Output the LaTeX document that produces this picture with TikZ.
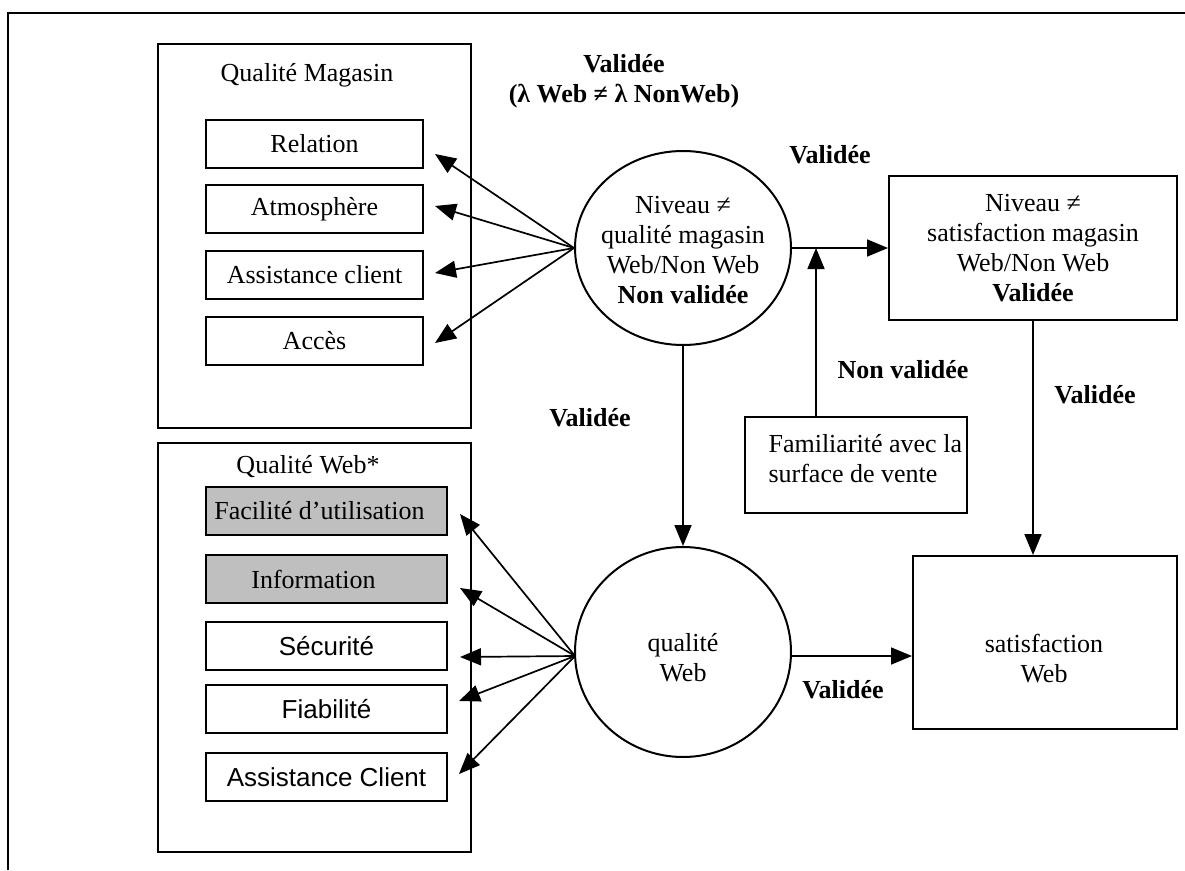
\documentclass[tikz,border=0pt]{standalone}
\usepackage{fontspec}
\setmainfont{Liberation Serif}
\newfontfamily\arialf{Liberation Sans}
\usetikzlibrary{arrows.meta,shapes.geometric,calc}
\begin{document}
\begin{tikzpicture}[x=1pt,y=-1pt,
  txt/.style={font=\fontsize{26}{30}\selectfont},
  lab/.style={font=\fontsize{26}{30}\selectfont\bfseries},
  grp/.style={draw,line width=2pt,anchor=north west,inner sep=0pt},
  ibox/.style={draw,line width=2pt,anchor=north west,inner sep=0pt,font=\fontsize{26}{30}\selectfont,minimum width=217pt,minimum height=48pt},
  wbox/.style={draw,line width=2pt,anchor=north west,inner sep=0pt,font=\fontsize{26}{30}\selectfont,minimum width=241pt,minimum height=48pt},
  gray/.style={fill=black!25},
  ell/.style={draw,ellipse,line width=2pt,inner sep=0pt},
  arr/.style={line width=1.7pt,-{Triangle[length=21pt,width=17pt]}},
  ln/.style={line width=1.7pt}
]
\useasboundingbox (0,0) rectangle (1185,870);
% outer frame
\draw[line width=2.2pt] (8,870) -- (8,13) -- (1185,13);

% Qualite Magasin group
\node[grp,minimum width=313pt,minimum height=384pt] (qm) at (157,43) {};
\node[txt] (qmt) at (307,75) {Qualité Magasin};
\node[ibox] (rel) at (205,119) {Relation};
\node[ibox] (atm) at (205,184) {Atmosphère};
\node[ibox] (asc) at (205,250) {Assistance client};
\node[ibox] (acc) at (205,316) {Accès};

% Qualite Web group
\node[grp,minimum width=313pt,minimum height=409pt] (qw) at (157,442) {};
\node[txt] (qwt) at (308,467) {Qualité Web*};
\node[wbox,gray] (fac) at (205,486) {\hspace*{-14pt}Facilité d’utilisation};
\node[wbox,gray] (inf) at (205,554) {\hspace*{-26pt}Information};
\node[wbox,font=\fontsize{26}{30}\arialf] (sec) at (205,621) {Sécurité};
\node[wbox,font=\fontsize{26}{30}\arialf] (fia) at (205,684) {Fiabilité};
\node[wbox,font=\fontsize{26}{30}\arialf] (asw) at (205,752) {Assistance Client};

% ellipses
\node[ell,minimum width=216pt,minimum height=194pt] (nq) at (683,248) {};
\node[txt,align=center] (nqt) at (683,250) {Niveau ≠\\qualité magasin\\Web/Non Web\\\textbf{Non validée}};
\node[ell,minimum width=216pt,minimum height=210pt] (qwe) at (683,652) {};
\node[txt,align=center] (qwet) at (683,658) {qualité\\Web};

% right boxes
\node[grp,minimum width=288pt,minimum height=144pt,txt,align=center] (ns) at (888,175) {Niveau ≠\\satisfaction magasin\\Web/Non Web\\\textbf{Validée}};
\node[grp,minimum width=264pt,minimum height=173pt] (sw) at (912,555) {};
\node[txt,align=center] (swt) at (1044,659) {satisfaction\\Web};
\node[grp,minimum width=222pt,minimum height=96pt] (fam) at (744,416) {};
\node[txt,align=left,anchor=west] (famt) at (765,459) {Familiarité avec la\\surface de vente};

% labels
\node[lab,align=center] at (624,81) {Validée\\(λ Web ≠ λ NonWeb)};
\node[lab] at (830,155) {Validée};
\node[lab] at (590,418) {Validée};
\node[lab] at (903,370) {Non validée};
\node[lab] at (1095,395) {Validée};
\node[lab] at (843,690) {Validée};

% arrows from Niveau qualite magasin
\coordinate (t1) at ($(rel.east)+(11,10)$);
\coordinate (t2) at ($(atm.east)+(11,-3)$);
\coordinate (t3) at ($(asc.east)+(11,-2)$);
\coordinate (t4) at ($(acc.east)+(11,2)$);
\foreach \t in {t1,t2,t3,t4} \draw[arr] (nq.west) -- (\t);

% arrows from qualite Web
\coordinate (qwl) at (575,656);
\coordinate (w1) at ($(fac.east)+(12,3)$);
\coordinate (w2) at ($(inf.east)+(12,9)$);
\coordinate (w3) at ($(sec.east)+(12,11)$);
\coordinate (w4) at ($(fia.east)+(11,-8)$);
\coordinate (w5) at ($(asw.east)+(11,-3)$);
\foreach \t in {w1,w2,w3,w4,w5} \draw[arr] (qwl) -- (\t);

% main arrows
\draw[arr] (nq.east) -- (nq.east -| ns.west);
\draw[arr] (nq.south) -- (qwe.north);
\draw[arr] (ns.south) -- (ns.south |- sw.north);
\coordinate (qwr) at (792,656);
\draw[arr] (qwr) -- (qwr -| sw.west);
\coordinate (j) at (816,248);
\draw[arr] (j |- fam.north) -- (j);
\end{tikzpicture}
\end{document}
